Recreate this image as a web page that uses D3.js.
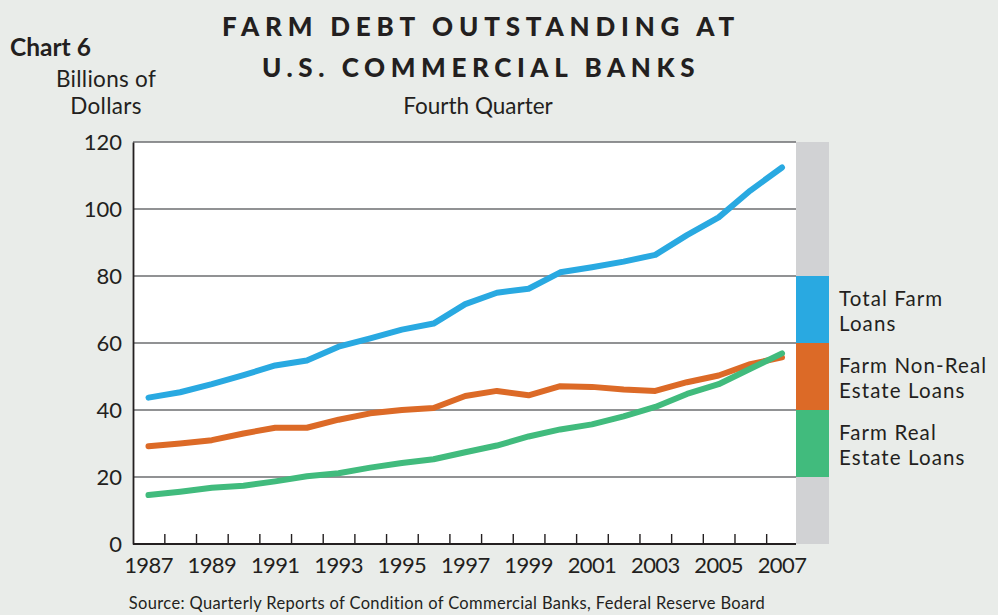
<!DOCTYPE html>
<html><head><meta charset="utf-8">
<script src="https://cdn.jsdelivr.net/npm/d3@7"></script>
<style>
html,body{margin:0;padding:0;background:#e9ece9;}
svg{display:block;font-family:Lato, "Open Sans", sans-serif;}
</style></head><body>
<svg id="c" width="998" height="615"></svg>
<script>
const years = d3.range(1987, 2008);
const totalLoans = [43.7,45.3,47.7,50.4,53.3,54.8,58.9,61.4,64.0,65.8,71.6,75.0,76.2,81.1,82.6,84.3,86.3,92.2,97.5,105.5,112.4];
const nonRealEstate = [29.2,30.0,31.0,33.0,34.7,34.7,37.1,39.0,40.0,40.6,44.2,45.7,44.4,47.1,46.9,46.1,45.7,48.3,50.3,53.7,55.7];
const realEstate = [14.6,15.6,16.8,17.4,18.7,20.2,21.1,22.8,24.2,25.3,27.4,29.4,32.1,34.2,35.7,38.1,40.9,44.8,47.7,52.3,56.9];
const yTicks = [0,20,40,60,80,100,120];
const xLabels = [1987,1989,1991,1993,1995,1997,1999,2001,2003,2005,2007];
const seriesNames = ["Total Farm Loans","Farm Non-Real Estate Loans","Farm Real Estate Loans"];
const legendLines = [["Total Farm","Loans"],["Farm Non-Real","Estate Loans"],["Farm Real","Estate Loans"]];
const legendRanges = [[60,80],[40,60],[20,40]];
const colors = ["#29a9e1","#dc6a27","#41bb7d"];

const svg = d3.select("#c");
const L = 133, R = 796, T = 142, B = 544;
const x = d3.scaleLinear().domain([1987, 2007]).range([148.5, 782]);
const y = d3.scaleLinear().domain([0, 120]).range([B, T]);

// plot background
svg.append("rect").attr("x", L).attr("y", T).attr("width", R - L).attr("height", B - T).attr("fill", "#fff");
// gray strip + legend blocks
const SW = 33;
svg.append("rect").attr("x", R).attr("y", T).attr("width", SW).attr("height", B - T).attr("fill", "#d1d2d4");
legendRanges.forEach((r, i) => {
  svg.append("rect").attr("x", R).attr("y", y(r[1])).attr("width", SW).attr("height", y(r[0]) - y(r[1])).attr("fill", colors[i]);
});

// gridlines
svg.append("g").selectAll("line").data(yTicks.filter(d => d > 0)).join("line")
  .attr("x1", L).attr("x2", R).attr("y1", d => y(d)).attr("y2", d => y(d))
  .attr("stroke", "#6d6e70").attr("stroke-width", 1.6);

// y axis
const yAxis = svg.append("g").attr("transform", `translate(${L},0)`)
  .call(d3.axisLeft(y).tickValues(yTicks).tickSize(0).tickPadding(11));
yAxis.select(".domain").attr("stroke", "#231f20").attr("stroke-width", 1.8);
yAxis.selectAll("text").attr("font-size", 22).attr("fill", "#231f20").attr("dy", "0.34em").attr("font-family", "Lato");

// x axis: ticks at year boundaries, inside plot
const xAxis = svg.append("g").attr("transform", `translate(0,${B})`)
  .call(d3.axisBottom(x).tickValues(years.slice(0, -1).map(d => d + 0.5)).tickSize(-10).tickFormat(""));
xAxis.select(".domain").remove();
xAxis.selectAll("line").attr("stroke", "#231f20").attr("stroke-width", 1.4);
svg.append("line").attr("x1", L).attr("x2", R).attr("y1", B).attr("y2", B).attr("stroke", "#231f20").attr("stroke-width", 1.8);
svg.append("g").selectAll("text").data(xLabels).join("text")
  .attr("x", d => x(d)).attr("y", B + 29).attr("text-anchor", "middle")
  .attr("font-size", 22).attr("fill", "#231f20").attr("letter-spacing", -0.6).text(d => d);

// lines
const line = d3.line().x((d, i) => x(years[i])).y(d => y(d));
[totalLoans, nonRealEstate, realEstate].forEach((s, i) => {
  svg.append("path").datum(s).attr("d", line).attr("fill", "none")
    .attr("stroke", colors[i]).attr("stroke-width", 6).attr("stroke-linecap", "round").attr("stroke-linejoin", "round");
});

// legend text
legendLines.forEach((ls, i) => {
  const cy = (y(legendRanges[i][0]) + y(legendRanges[i][1])) / 2;
  ls.forEach((t, j) => {
    svg.append("text").attr("x", 839).attr("y", cy + (j === 0 ? -4 : 21)).attr("font-size", 20.5)
      .attr("letter-spacing", 1.1).attr("fill", "#231f20").text(t);
  });
});

// titles
svg.append("text").attr("x", 481).attr("y", 36).attr("text-anchor", "middle").attr("font-size", 26)
  .attr("font-weight", 900).attr("letter-spacing", 5.8).attr("fill", "#231f20").text("FARM DEBT OUTSTANDING AT");
svg.append("text").attr("x", 481).attr("y", 77).attr("text-anchor", "middle").attr("font-size", 26)
  .attr("font-weight", 900).attr("letter-spacing", 5.6).attr("fill", "#231f20").text("U.S. COMMERCIAL BANKS");
svg.append("text").attr("x", 478).attr("y", 114).attr("text-anchor", "middle").attr("font-size", 22.5)
  .attr("fill", "#231f20").attr("letter-spacing", 0).text("Fourth Quarter");
svg.append("text").attr("x", 10).attr("y", 56).attr("font-size", 24.5).attr("font-weight", 700)
  .attr("fill", "#231f20").text("Chart 6");
svg.append("text").attr("x", 106).attr("y", 87).attr("text-anchor", "middle").attr("font-size", 22.5)
  .attr("fill", "#231f20").attr("letter-spacing", 0.3).text("Billions of");
svg.append("text").attr("x", 106).attr("y", 114).attr("text-anchor", "middle").attr("font-size", 22.5)
  .attr("fill", "#231f20").attr("letter-spacing", 0.3).text("Dollars");
svg.append("text").attr("x", 447).attr("y", 609).attr("text-anchor", "middle").attr("font-size", 16.5)
  .attr("fill", "#231f20").attr("letter-spacing", 0.35).text("Source: Quarterly Reports of Condition of Commercial Banks, Federal Reserve Board");
</script></body></html>
